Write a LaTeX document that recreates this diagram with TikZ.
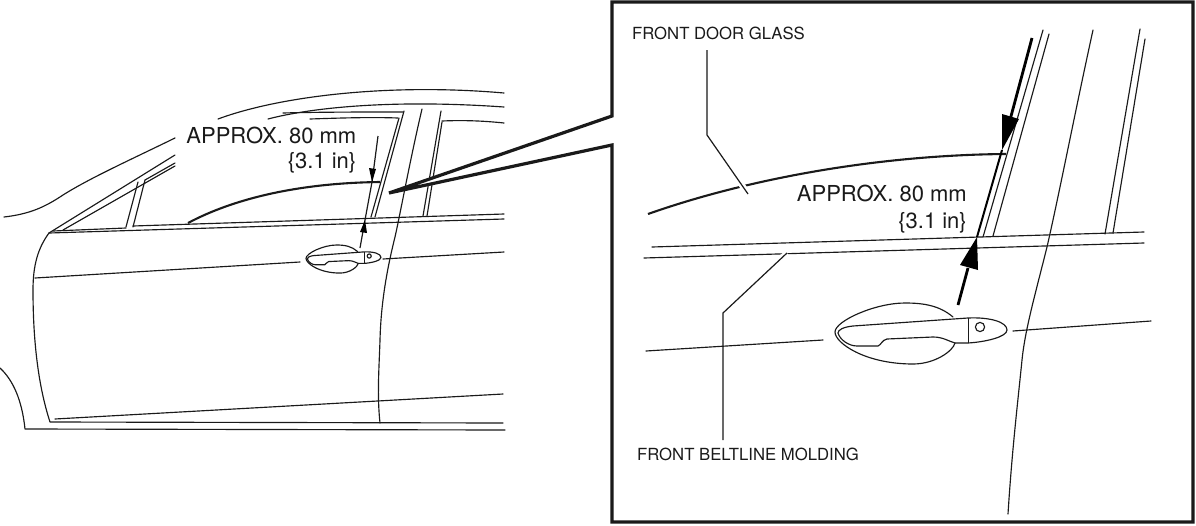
\documentclass[tikz,border=0pt]{standalone}
\usepackage{fontspec}
\setmainfont{TeX Gyre Heros}
\definecolor{ink}{HTML}{1A1A1A}
\tikzset{
  thinline/.style={draw=ink,line width=1.15pt,line cap=round,line join=round},
  glassline/.style={draw=ink,line width=2.1pt,line cap=butt},
  leaderline/.style={draw=ink,line width=1.2pt,preaction={draw=white,line width=6pt,line cap=butt}},
  dimline/.style={draw=black,line width=2.8pt},
  headfill/.style={fill=black,draw=none},
  calloutframe/.style={draw=ink,line width=3.2pt,fill=white,line join=miter},
  smalltext/.style={font=\fontsize{16.7}{18}\selectfont,inner sep=0pt,text=ink},
  bigtext/.style={font=\fontsize{22}{24}\selectfont,inner sep=0pt,text=ink},
  doorhandle/.pic={
    \draw[thinline] (118,14) .. controls (105,3) and (90,0) .. (70,0) .. controls (40,0) and (0,18) .. (0,29) .. controls (0,40) and (30,61) .. (78,61) .. controls (100,61) and (118,48) .. (120,40);
    \draw[thinline] (133,15) -- (18,23) .. controls (8,24) and (3,27) .. (3,30) .. controls (5,37) and (14,43) .. (22,43) -- (43,43) .. controls (46,42) and (47,37) .. (52,36) -- (98,34) .. controls (108,34) and (113,38) .. (120,40) -- (133,40) .. controls (150,39) and (172,34) .. (172,27) .. controls (172,19) and (155,14) .. (133,15);
    \draw[draw=ink,line width=0.8pt] (133.4,15) -- (133.4,40);
    \draw[thinline] (145,24) circle (4.6);
  }
}
\begin{document}
\begin{tikzpicture}[x=1pt,y=-1pt]
\useasboundingbox (0,0) rectangle (1196,525);
\fill[white] (0,0) rectangle (1196,525);

% --- left: whole door ---
\draw[thinline] (4,217) .. controls (30,214) and (45,207) .. (63,195) .. controls (90,178) and (130,160) .. (175,138);
\draw[thinline] (49,233) -- (175,155);
\draw[thinline] (63,230) -- (175,166);
\draw[thinline] (145,180) -- (175,163);
\draw[thinline] (138,182) -- (126,227);
\draw[thinline] (145,180) -- (133,227);
\draw[thinline] (53,231) -- (126,228);
\draw[thinline] (133,226) -- (504,214);
\draw[thinline] (49,233) -- (504,219);
\draw[thinline] (49,233) .. controls (38,248) and (33,265) .. (33,290) .. controls (33,340) and (38,385) .. (50,422) -- (503,423);
\draw[thinline] (55,419) -- (503,394);
\draw[thinline] (0,368) .. controls (13,380) and (22,400) .. (25,429) -- (505,430);
\draw[thinline] (35,278) -- (300,262);
\draw[thinline] (383,259) -- (504,252);
\draw[thinline] (422,109) .. controls (410,160) and (400,215) .. (395,237) .. controls (388,265) and (381,300) .. (380,340) .. controls (379,370) and (377,395) .. (380,423);
\draw[thinline] (218,119) .. controls (280,96) and (390,83) .. (504,93);
\draw[thinline] (268,119) .. controls (310,108) and (390,99) .. (504,107);
\draw[thinline] (283,113) .. controls (320,112) and (360,112) .. (403,112);
\draw[thinline] (310,119) .. controls (340,118) and (370,117) .. (398,118);
\draw[thinline] (404,111) -- (375,217);
\draw[thinline] (399,118) -- (371,217);
\draw[thinline] (441,111) -- (423,216);
\draw[thinline] (442,122) -- (427,216);
\draw[thinline] (442,121) .. controls (465,120) and (485,121) .. (504,123);
\draw[glassline] (188,223) .. controls (235,198) and (300,183) .. (380,182);
\pic at (306,245) [xscale=0.436,yscale=0.46] {doorhandle};

% left arrows
\coordinate (ltail) at (378,136);
\coordinate (ltip) at (372,182);
\coordinate (lotip) at (365,220);
\coordinate (lotail) at (360,248);
\draw[draw=ink,line width=1.2pt] (ltail) -- (ltip) -- (lotip) -- (lotail);
\fill[headfill] (369,168) -- (376,169) -- (ltip) -- cycle;
\fill[headfill] (360,232) -- (367,233) -- (lotip) -- cycle;

\node[bigtext,anchor=base east] (lefttexta) at (356.5,143) {APPROX. 80 mm};
\node[bigtext,anchor=base east] (lefttextb) at (356.5,168) {\{3.1 in\}};

% --- callout ---
\draw[calloutframe] (612,116) -- (612,2) -- (1193,2) -- (1193,522) -- (612,522) -- (612,145) -- (389,193) -- cycle;

% --- right: detail ---
\draw[glassline] (648,214) .. controls (750,178) and (880,155) .. (1006,154);
\coordinate (glassa) at (707,50);
\coordinate (glassb) at (707,135);
\coordinate (glassc) at (748,194);
\draw[leaderline] (glassa) -- (glassb) -- (glassc);
\draw[thinline] (652,247) -- (1144,232);
\draw[thinline] (644,258) -- (1144,243);
\coordinate (moldb) at (723,313);
\coordinate (moldc) at (787,253);
\coordinate (molda) at (723,440);
\draw[leaderline] (molda) -- (moldb) -- (moldc);
\draw[thinline] (1043,30) -- (983,237);
\draw[thinline] (1049,34) -- (993,236);
\draw[thinline] (1093,30) .. controls (1075,112) and (1060,190) .. (1047,247) .. controls (1035,295) and (1025,330) .. (1022,360) .. controls (1018,400) and (1012,450) .. (1008,514);
\draw[thinline] (1140,29) -- (1105,234);
\draw[thinline] (1145,39) -- (1113,233);
\draw[thinline] (646,351) -- (823,340);
\draw[thinline] (1013,331) -- (1151,321);
\pic at (835,303) {doorhandle};

% right arrows
\coordinate (rtail) at (1032,38);
\coordinate (rtip) at (1002,150);
\coordinate (rotip) at (977,237);
\coordinate (rotail) at (958,305);
\draw[dimline] (rtail) -- (1010,120);
\draw[draw=black,line width=2pt] (rtip) -- (rotip);
\draw[dimline] (968,268) -- (rotail);
\fill[headfill] (1002,114) -- (1019,119) -- (rtip) -- cycle;
\fill[headfill] (960,265) -- (978,270) -- (rotip) -- cycle;

\node[smalltext,anchor=base west] (glasslabel) at (632,39) {FRONT DOOR GLASS};
\node[smalltext,anchor=base west] (moldlabel) at (637,460) {FRONT BELTLINE MOLDING};
\node[bigtext,anchor=base east] (righttexta) at (967,201) {APPROX. 80 mm};
\node[bigtext,anchor=base east] (righttextb) at (967,228) {\{3.1 in\}};
\end{tikzpicture}
\end{document}
